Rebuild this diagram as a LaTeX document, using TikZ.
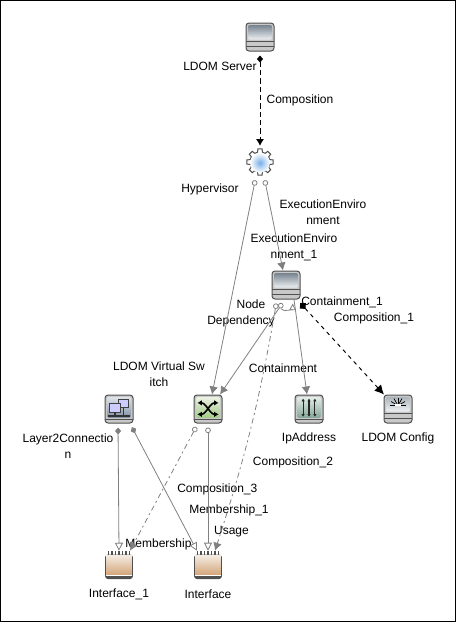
\documentclass[tikz,border=0pt]{standalone}
\usepackage{fontspec}
\setmainfont{Liberation Sans}
\usetikzlibrary{arrows.meta,positioning,calc,shadings}
\definecolor{linegray}{HTML}{808080}
\definecolor{edgegray}{HTML}{505050}
\definecolor{basegray}{HTML}{C8C8C8}
\definecolor{slatetop}{HTML}{76838F}
\definecolor{slatelow}{HTML}{EEF1F4}
\definecolor{tantop}{HTML}{F3EBE1}
\definecolor{tanlow}{HTML}{D3A478}
\definecolor{lantop}{HTML}{DFE4EA}
\definecolor{lanlow}{HTML}{7F90A4}
\definecolor{swaptop}{HTML}{ECF3E4}
\definecolor{swaplow}{HTML}{A0CA86}
\definecolor{wiretop}{HTML}{E4EEE8}
\definecolor{wirelow}{HTML}{85A598}
\definecolor{gearmid}{HTML}{78AEE8}
\newcommand{\iconbody}[1]{\begin{scope}[shift={(path picture bounding box.center)},x=1pt,y=1pt]#1\end{scope}}
\newcommand{\stackfill}[1]{%
\shade[top color=#1,bottom color=slatelow,rounded corners=1pt] (-9,9) rectangle (9,-2);
\draw[edgegray,line width=.6pt] (-11,-3.6)--(11,-3.6) (-11,-7)--(11,-7);}
\newcommand{\screenfill}[2]{%
\draw[edgegray,line width=.6pt] (-11,-7.6)--(11,-7.6);
\shade[top color=#1,bottom color=#2,rounded corners=1pt] (-9,9) rectangle (9,-6.6);}
\tikzset{
ringtip/.tip={Circle[open,length=4.2pt,width=4.2pt]},
solidtip/.tip={Latex[length=6pt,width=6.5pt]},
hollowtip/.tip={Triangle[open,length=6pt,width=6pt]},
blocktip/.tip={Diamond[length=5.25pt,width=4.5pt]},
iconbox/.style={rectangle,rounded corners=2.25pt,minimum size=21pt,inner sep=0pt,draw=edgegray,line width=.75pt,fill=basegray},
stackicon/.style={iconbox,path picture={\iconbody{\stackfill{slatetop}}}},
configicon/.style={iconbox,path picture={\iconbody{\stackfill{slatetop!60!white}
\foreach \a in {0,30,...,180} {\draw[black,line width=.55pt] (0,2.6)--++(\a:6);}
\fill[white,sharp corners] (-2.2,2.2) rectangle (2.2,4);}}},
lanicon/.style={iconbox,path picture={\iconbody{\screenfill{lantop}{lanlow}
\draw[black!75,line width=.7pt,fill=white!80!blue,sharp corners] (-.6,7.4) rectangle (6.8,1);
\draw[black!75,line width=.7pt,fill=white!80!blue,sharp corners] (-6.8,4) rectangle (.9,-2.4);
\draw[black!80,line width=.9pt,sharp corners] (-8,-5.2)--(8,-5.2) (-3,-2.4)--(-3,-5.2) (3.4,1)--(3.4,-5.2);}}},
swapicon/.style={iconbox,path picture={\iconbody{\screenfill{swaptop}{swaplow}
\draw[black,line width=1.2pt,{Latex[length=3.4pt,width=4.2pt]}-{Latex[length=3.4pt,width=4.2pt]}] (-8,4.6) .. controls (-1.5,4.6) and (1.5,-4) .. (8,-4);
\draw[black,line width=1.2pt,{Latex[length=3.4pt,width=4.2pt]}-{Latex[length=3.4pt,width=4.2pt]}] (-8,-4) .. controls (-1.5,-4) and (1.5,4.6) .. (8,4.6);}}},
wireicon/.style={iconbox,path picture={\iconbody{\screenfill{wiretop}{wirelow}
\foreach \p in {-4.4,0,4.4} {\draw[black!85,line width=.9pt,{Latex[length=2pt,width=2.6pt]}-{Latex[length=2pt,width=2.6pt]}] (\p,7.8)--(\p,-5.8);}}}},
gearicon/.style={rectangle,minimum size=21pt,inner sep=0pt,path picture={\iconbody{%
\filldraw[edgegray,line width=.75pt,fill=white] (-14:7.6) \foreach \a in {0,45,...,315} { -- (\a-14:7.6) -- (\a-9:9.9) -- (\a+9:9.9) -- (\a+14:7.6) } -- cycle;
\shade[inner color=gearmid,outer color=white] (0,-.6) circle (7.4);}}},
porticon/.style={rectangle,minimum size=21pt,inner sep=0pt,path picture={\iconbody{%
\foreach \p in {-8,-5.33,-2.67,0,2.67,5.33,8} {\draw[edgegray,line width=1.2pt] (\p,10.5)--(\p,7);}
\fill[edgegray,rounded corners=2pt] (-10.4,7.8) rectangle (10.4,-10.5);
\shade[top color=tantop,bottom color=tanlow] (-9.6,7.1) rectangle (9.6,-7.4);
\fill[white] (-9.6,-7.4) rectangle (9.6,-8.4);}}},
tag/.style={inner sep=0pt,align=center,font=\fontsize{9}{12}\selectfont},
link/.style={draw=linegray,line width=.6pt},
compose/.style={draw=black,line width=.7pt,dash pattern=on 4pt off 2.25pt},
loose/.style={dash pattern=on 4pt off 2.5pt on 1.5pt off 2.5pt},
}
\begin{document}
\begin{tikzpicture}[on grid]
\useasboundingbox (0,0) rectangle (342pt,-466.5pt);
\draw[black,line width=.75pt] (.375pt,-.375pt) rectangle (341.625pt,-466.125pt);
\node[stackicon] (server) at (195pt,-27.75pt) {};
\node[gearicon,below=93.75pt of server] (hyper) {};
\node[stackicon,below right=92.25pt and 19.5pt of hyper] (store) {};
\node[swapicon,below left=93pt and 58.5pt of store] (vswitch) {};
\node[wireicon,below right=93pt and 17.25pt of store] (ipaddr) {};
\node[configicon,right=66.75pt of ipaddr] (config) {};
\node[lanicon,left=66.75pt of vswitch] (layer2) {};
\node[porticon,below=117pt of vswitch] (iface) {};
\node[porticon,left=66.75pt of iface] (ifaceone) {};
\node[tag,below left=21.75pt and 30pt of server] (serverlbl) {LDOM Server};
\node[tag,above right=46.5pt and 30pt of hyper] (complbl) {Composition};
\node[tag,below left=20.25pt and 37.5pt of hyper] (hyperlbl) {Hypervisor};
\node[tag,below right=37.5pt and 47.25pt of hyper] (execlbl) {ExecutionEnviro\\nment};
\node[tag,above right=28.5pt and 6pt of store] (execonelbl) {ExecutionEnviro\\nment\_1};
\node[tag,below left=21.4pt and 33.75pt of store] (deplbl) {\hspace*{15pt}Node\\Dependency};
\node[tag,below right=12.75pt and 42pt of store] (contonelbl) {Containment\_1};
\node[tag,below right=24.75pt and 66pt of store] (componelbl) {Composition\_1};
\node[tag,below left=62.25pt and 2.25pt of store] (contlbl) {Containment};
\node[tag,above left=26.25pt and 36.75pt of vswitch] (vswitchlbl) {LDOM Virtual Sw\\itch};
\node[tag,below left=27.75pt and 38.25pt of layer2] (layer2lbl) {Layer2Connectio\\n};
\node[tag,below=21.75pt of ipaddr] (ipaddrlbl) {IpAddress};
\node[tag,below=21.75pt of config] (configlbl) {LDOM Config};
\node[tag,below left=39.75pt and 12pt of ipaddr] (comptwolbl) {Composition\_2};
\node[tag,below right=60pt and 7pt of vswitch] (compthreelbl) {Composition\_3};
\node[tag,above right=41.25pt and 15.75pt of iface] (memonelbl) {Membership\_1};
\node[tag,above right=24.75pt and 17.6pt of iface] (usagelbl) {Usage};
\node[tag,above right=15.75pt and 29.6pt of ifaceone] (memlbl) {Membership};
\node[tag,below=21.75pt of ifaceone] (ifaceonelbl) {Interface\_1};
\node[tag,below=21.75pt of iface] (ifacelbl) {Interface};
\draw[compose,blocktip-{Latex[length=5pt,width=6pt]},shorten <=3pt,shorten >=1.5pt] (server.south)--(hyper.north);
\draw[link,ringtip-solidtip,shorten <=3pt] ([xshift=-3pt]hyper.south)--([xshift=3pt]vswitch.north);
\draw[link,ringtip-solidtip,shorten <=3pt] ([xshift=3pt]hyper.south)--([xshift=-2.25pt]store.north);
\draw[link,ringtip-solidtip,shorten <=3.5pt] ([xshift=-.75pt]store.south)--([xshift=9pt]vswitch.north);
\draw[link,loose,ringtip-solidtip,shorten <=3pt] ([xshift=-6.75pt]store.south) to[bend left=4] ([xshift=5.25pt]iface.north);
\draw[link,-solidtip] ([xshift=6pt]store.south)--([xshift=-1.5pt]ipaddr.north);
\draw[link,-{Triangle[open,length=5pt,width=5pt]}] ([xshift=-3.75pt,yshift=-7pt]store.south) to[out=-50,in=-90] ([xshift=5pt,yshift=-3pt]store.south);
\draw[compose,dash pattern=on 3pt off 3pt,{Diamond[length=6pt,width=6pt]}-{Latex[length=7pt,width=7pt]},shorten <=3.5pt] ([xshift=8.25pt]store.south)--([xshift=-10.5pt]config.north);
\draw[link,blocktip-hollowtip,shorten <=3pt] ([xshift=-.75pt]layer2.south)--(ifaceone.north);
\draw[link,blocktip-hollowtip,shorten <=3pt] ([xshift=8.25pt]layer2.south)--([xshift=-8.25pt]iface.north);
\draw[link,loose,ringtip-solidtip,shorten <=3pt] ([xshift=-7.5pt]vswitch.south)--([xshift=8.25pt]ifaceone.north);
\draw[link,ringtip-hollowtip,shorten <=3pt] (vswitch.south)--(iface.north);
\end{tikzpicture}
\end{document}
